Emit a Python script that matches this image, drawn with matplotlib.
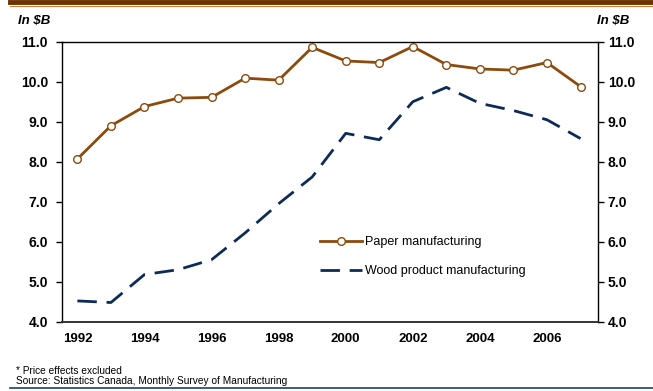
import matplotlib
matplotlib.use("Agg")
import matplotlib.pyplot as plt
from matplotlib.lines import Line2D

plt.rcParams['font.family'] = ['Liberation Sans', 'DejaVu Sans']

# Data (in $B, price effects excluded)
years = list(range(1992, 2008))
paper = [8.07, 8.90, 9.38, 9.59, 9.61, 10.09, 10.04, 10.86,
         10.52, 10.48, 10.88, 10.43, 10.32, 10.29, 10.48, 9.88]
wood = [4.52, 4.48, 5.18, 5.30, 5.55, 6.22, 6.95, 7.62,
        8.71, 8.55, 9.50, 9.86, 9.46, 9.28, 9.05, 8.58]
xticks = [1992, 1994, 1996, 1998, 2000, 2002, 2004, 2006]
yticks = [4.0, 5.0, 6.0, 7.0, 8.0, 9.0, 10.0, 11.0]
ylabels = ['%.1f' % v for v in yticks]

PAPER_C = '#8c4a0c'
WOOD_C = '#0e2a56'

fig = plt.figure(figsize=(6.53, 3.91), dpi=100)
ax = fig.add_axes([0.0949, 0.1772, 0.8208, 0.716])

ax.plot(years, paper, color=PAPER_C, lw=2.0, marker='o', ms=5.5,
        mfc='white', mec=PAPER_C, mew=1.0, zorder=3)
ax.plot(years, wood, color=WOOD_C, lw=2.0, dashes=(7, 3.5), zorder=2)

ax.set_xlim(1991.54, 2007.52)
ax.set_ylim(4.0, 11.0)
ax.set_xticks(xticks)
ax.set_xticklabels([str(y) for y in xticks], fontsize=9.5, fontweight='bold')
ax.set_yticks(yticks)
ax.set_yticklabels(ylabels, fontsize=10, fontweight='bold')
ax.tick_params(axis='x', length=0, pad=8)
ax.tick_params(axis='y', length=4, width=1, direction='out', pad=6)
for s in ax.spines.values():
    s.set_linewidth(1.0)
    s.set_color('#000000')
ax.spines['bottom'].set_color('#333333')
ax.spines['bottom'].set_linewidth(1.4)

# right-hand axis (same scale)
ax2 = ax.twinx()
ax2.set_ylim(ax.get_ylim())
ax2.set_yticks(yticks)
ax2.set_yticklabels(ylabels, fontsize=10, fontweight='bold')
ax2.tick_params(axis='y', length=4, width=1, direction='out', pad=3)
for s in ax2.spines.values():
    s.set_visible(False)

# legend
handles = [Line2D([], [], color=PAPER_C, lw=2.0, marker='o', ms=5.5,
                  mfc='white', mec=PAPER_C, mew=1.0),
           Line2D([], [], color=WOOD_C, lw=2.0, dashes=(7, 3.5))]
ax.legend(handles, ['Paper manufacturing', 'Wood product manufacturing'],
          loc='upper left', bbox_to_anchor=(0.46, 0.345), frameon=False,
          fontsize=9, handlelength=3.4, handletextpad=0.25, labelspacing=1.35)

# unit labels
fig.text(0.028, 0.946, 'In $B', fontsize=9.5, fontweight='bold', style='italic',
         ha='left', va='center')
fig.text(0.915, 0.946, 'In $B', fontsize=9.5, fontweight='bold', style='italic',
         ha='left', va='center')

# footnotes
fig.text(0.025, 0.052, '* Price effects excluded', fontsize=7.3, ha='left', va='center')
fig.text(0.025, 0.026, 'Source: Statistics Canada, Monthly Survey of Manufacturing',
         fontsize=7.3, ha='left', va='center')

# decorative rules
fig.add_artist(Line2D([0.015, 1.0], [0.995, 0.995], color='#6b3300', lw=3.5,
                      transform=fig.transFigure))
fig.add_artist(Line2D([0.015, 1.0], [0.985, 0.985], color='#c8823a', lw=0.8,
                      transform=fig.transFigure))
fig.add_artist(Line2D([0.015, 1.0], [0.007, 0.007], color='#1f3c78', lw=1.2,
                      transform=fig.transFigure))

fig.savefig('out.png', dpi=100)
